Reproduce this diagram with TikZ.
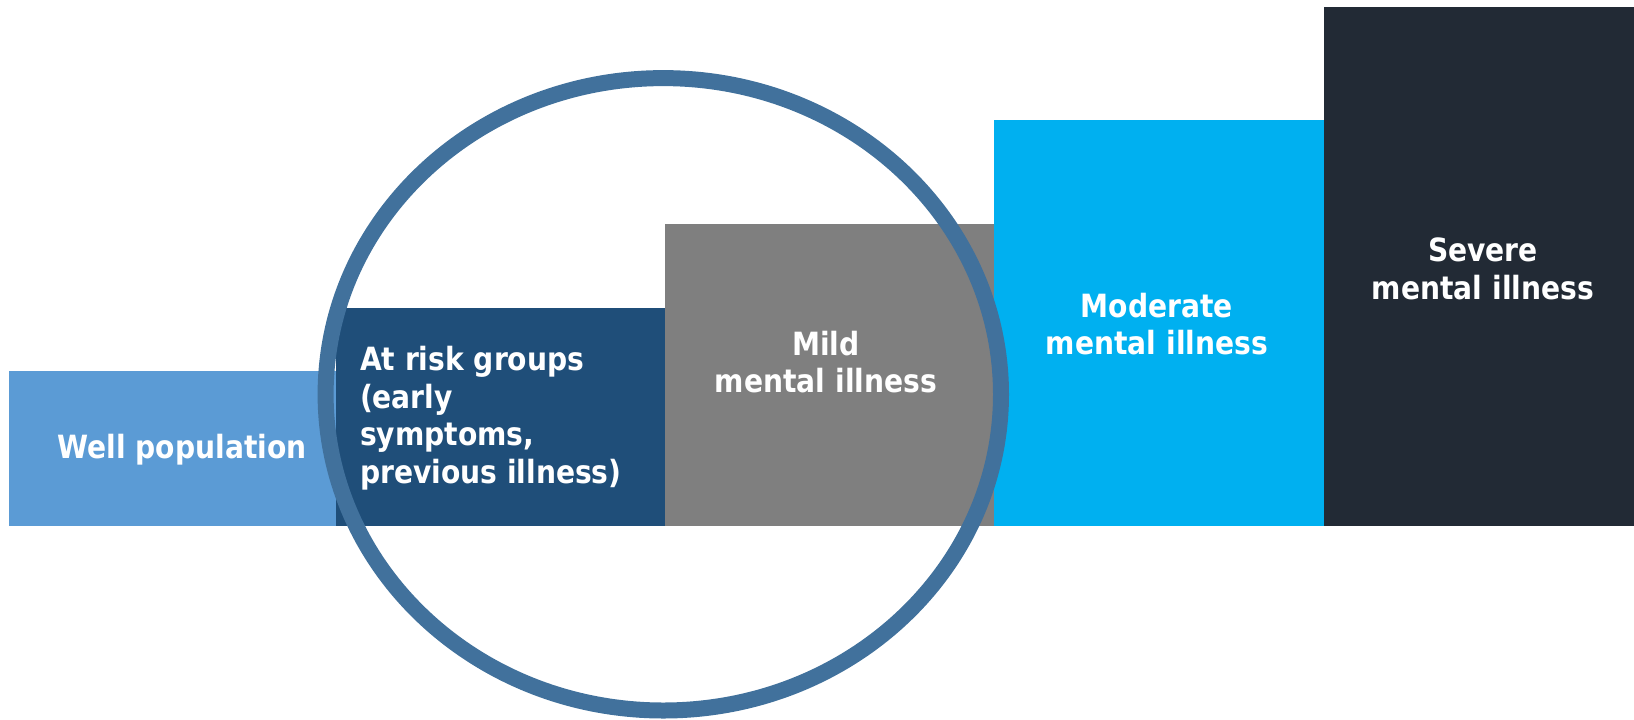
\documentclass[tikz,border=0pt]{standalone}
\usepackage{fontspec}
\newfontfamily\barfont[FakeStretch=0.88]{DejaVu Sans}
\usetikzlibrary{shapes.geometric}
\definecolor{wellblue}{HTML}{5B9BD5}
\definecolor{riskblue}{HTML}{1F4E79}
\definecolor{mildgrey}{HTML}{7F7F7F}
\definecolor{modcyan}{HTML}{00B0F0}
\definecolor{severenavy}{HTML}{222A35}
\definecolor{ringblue}{HTML}{41719C}
\begin{document}
\begin{tikzpicture}[x=0.5pt,y=-0.5pt]
  \tikzstyle{BarStyle}=[rectangle,inner sep=0pt,anchor=south west]
  \tikzstyle{LabelStyle}=[text=white,inner sep=0pt,align=center,
                          font=\barfont\bfseries\fontsize{16}{18.8}\selectfont]
  \useasboundingbox (0,0) rectangle (1634,719);
  % bars, left to right
  \node[BarStyle,fill=wellblue,minimum width=163.65pt,minimum height=77.5pt] (well) at (8.3,526) {};
  \node[BarStyle,fill=riskblue,minimum width=164.65pt,minimum height=108.75pt] (risk) at (335.6,526) {};
  \node[BarStyle,fill=mildgrey,minimum width=164.1pt,minimum height=151pt] (mild) at (664.9,526) {};
  \node[BarStyle,fill=modcyan,minimum width=165.2pt,minimum height=203pt] (moderate) at (993.1,526) {};
  \node[BarStyle,fill=severenavy,minimum width=155.25pt,minimum height=259.35pt] (severe) at (1323.5,526) {};
  % labels
  \node[LabelStyle] (welltxt) at (182,450) {Well population};
  \node[LabelStyle,align=left,anchor=west] (risktxt) at (359.6,418) {At risk groups\\(early\\symptoms,\\previous illness)};
  \node[LabelStyle] (mildtxt) at (826,362) {Mild\\mental illness};
  \node[LabelStyle] (moderatetxt) at (1157,324) {Moderate\\mental illness};
  \node[LabelStyle] (severetxt) at (1483,269) {Severe\\mental illness};
  % ring
  \node[ellipse,draw=ringblue,line width=8pt,minimum width=337.7pt,minimum height=316.2pt,inner sep=0pt] (ring) at (663.3,394.3) {};
\end{tikzpicture}
\end{document}
